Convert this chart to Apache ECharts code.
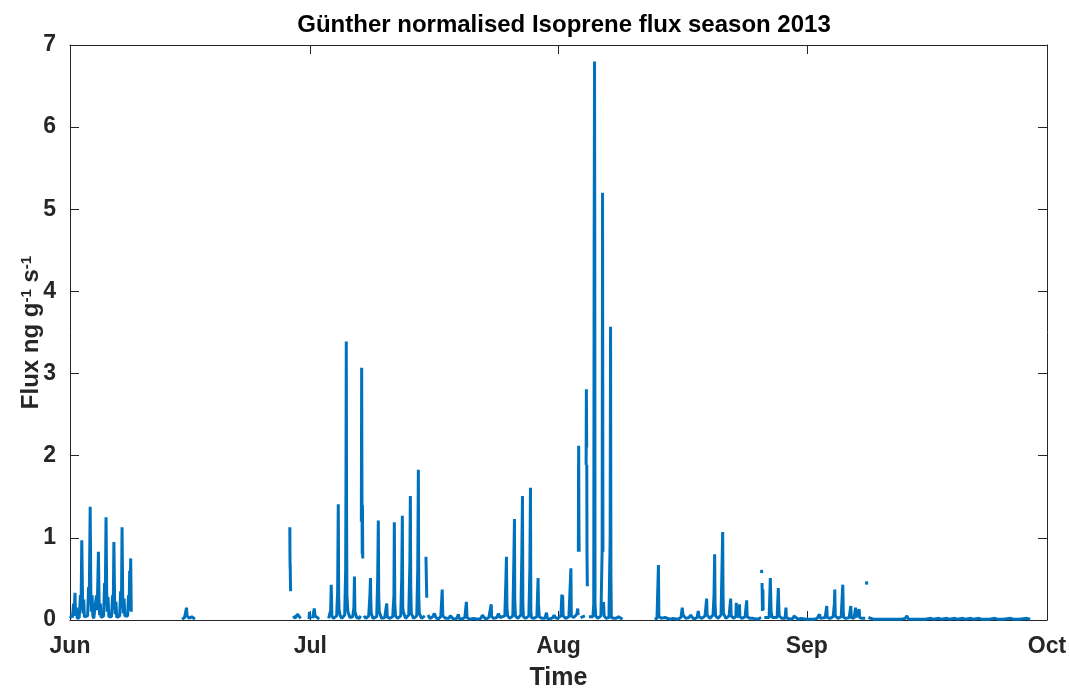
<!DOCTYPE html>
<html>
<head>
<meta charset="utf-8">
<script src="https://cdn.jsdelivr.net/npm/echarts@6/dist/echarts.min.js"></script>
<style>
  html, body { margin: 0; padding: 0; background: #fff; }
  #chart { width: 1070px; height: 696px; }
</style>
</head>
<body>
<div id="chart"></div>
<script>
// x values are days since 1 June 2013 00:00
const monthTicks = [0, 30, 61, 92, 122];
const monthLabels = ['Jun', 'Jul', 'Aug', 'Sep', 'Oct'];
const fluxTicks = [0, 1, 2, 3, 4, 5, 6, 7];

// null marks a gap in the record
const juneFlux = [
  [0.05,0.02],[0.2,0.06],[0.3,0.03],[0.45,0.2],[0.55,0.12],[0.62,0.33],[0.7,0.05],[0.8,0.15],[0.9,0.02],
  [1.15,0.03],[1.3,0.3],[1.38,0.12],[1.47,0.97],[1.56,0.3],[1.62,0.08],[1.72,0.25],[1.8,0.04],[1.95,0.02],
  [2.2,0.05],[2.32,0.4],[2.4,0.2],[2.52,1.38],[2.6,0.35],[2.67,0.1],[2.76,0.3],[2.85,0.05],[2.97,0.02],
  [3.15,0.04],[3.3,0.3],[3.4,0.12],[3.55,0.83],[3.63,0.25],[3.7,0.06],[3.8,0.2],[3.88,0.03],[3.97,0.02],
  [4.2,0.05],[4.32,0.45],[4.4,0.2],[4.5,1.25],[4.58,0.35],[4.65,0.1],[4.75,0.28],[4.85,0.04],[4.97,0.02],
  [5.18,0.04],[5.32,0.3],[5.4,0.14],[5.48,0.95],[5.57,0.25],[5.64,0.07],[5.74,0.22],[5.84,0.03],[5.95,0.02],
  [6.2,0.05],[6.32,0.35],[6.42,0.15],[6.5,1.13],[6.58,0.3],[6.65,0.08],[6.75,0.26],[6.85,0.05],[6.95,0.03],
  [7.2,0.05],[7.3,0.3],[7.38,0.12],[7.45,0.6],[7.52,0.35],[7.58,0.75],[7.65,0.1]
];

const midJuneFlux = [
  [14.0,0.01],[14.3,0.03],[14.55,0.15],[14.62,0.05],[14.9,0.02],
  [15.2,0.04],[15.4,0.02],[15.6,0.01]
];

const lateJuneFlux = [
  [27.45,1.13],[27.47,0.75],[27.49,0.62],[27.5,0.68],[27.52,0.5],[27.55,0.35],
  null,
  [27.9,0.05],[28.1,0.02],[28.4,0.07],[28.6,0.08],[28.8,0.02],
  null,
  [29.85,0.01],[29.9,0.1],[29.95,0.01],
  null,
  [30.3,0.02],[30.5,0.14],[30.6,0.05],[30.9,0.03],[31.1,0.01]
];

const julyAugFlux = [
  [32.3,0.02],[32.55,0.12],[32.62,0.43],[32.7,0.05],[32.9,0.02],
  [33.3,0.05],[33.42,0.35],[33.5,1.41],[33.55,0.3],[33.6,0.12],[33.75,0.05],[33.95,0.02],
  [34.3,0.06],[34.42,0.6],[34.46,1.65],[34.5,3.39],[34.54,1.2],[34.58,0.3],[34.7,0.1],[34.95,0.03],
  [35.3,0.04],[35.45,0.15],[35.52,0.53],[35.58,0.1],[35.8,0.03],
  [36.1,0.02],[36.3,0.05],
  null,
  [36.38,1.2],[36.42,3.07],[36.46,1.5],[36.49,0.8],[36.52,1.4],[36.56,0.75],
  null,
  [36.7,0.05],[36.95,0.02],
  [37.3,0.05],[37.45,0.3],[37.52,0.51],[37.56,0.25],[37.62,0.08],[37.85,0.02],
  [38.3,0.04],[38.42,0.5],[38.5,1.21],[38.55,0.3],[38.62,0.1],[38.9,0.02],
  [39.3,0.03],[39.55,0.2],[39.62,0.04],[39.9,0.02],
  [40.3,0.04],[40.45,0.3],[40.5,1.19],[40.56,0.2],[40.65,0.05],[40.9,0.02],
  [41.3,0.05],[41.42,0.5],[41.5,1.27],[41.55,0.15],[41.62,0.1],[41.9,0.02],
  [42.3,0.06],[42.44,0.7],[42.5,1.51],[42.55,0.4],[42.62,0.08],[42.9,0.02],
  [43.3,0.05],[43.42,0.6],[43.5,1.83],[43.55,0.3],[43.62,0.08],[43.9,0.02],
  [44.3,0.05],
  null,
  [44.45,0.77],[44.5,0.5],[44.55,0.27],
  null,
  [44.7,0.06],[44.95,0.02],
  [45.3,0.04],[45.5,0.08],[45.7,0.03],[45.95,0.01],
  [46.3,0.04],[46.48,0.37],[46.55,0.05],[46.9,0.02],
  [47.3,0.02],[47.5,0.05],[47.9,0.01],
  [48.3,0.02],[48.5,0.07],[48.6,0.02],[48.9,0.01],
  [49.3,0.03],[49.5,0.22],[49.58,0.03],[49.9,0.01],
  [50.4,0.02],[50.5,0.03],[50.9,0.01],
  [51.3,0.02],[51.5,0.06],[51.9,0.01],
  [52.3,0.03],[52.6,0.19],[52.65,0.04],[52.9,0.02],
  [53.3,0.03],[53.5,0.08],[53.7,0.03],[53.9,0.02],
  [54.3,0.05],[54.42,0.45],[54.5,0.77],[54.56,0.15],[54.65,0.05],[54.9,0.02],
  [55.3,0.05],[55.42,0.7],[55.5,1.23],[55.54,0.25],[55.62,0.05],[55.9,0.02],
  [56.3,0.06],[56.42,0.8],[56.5,1.51],[56.55,0.2],[56.62,0.04],[56.9,0.02],
  [57.3,0.05],[57.42,0.6],[57.5,1.61],[57.55,0.1],[57.62,0.03],[57.9,0.02],
  [58.3,0.04],[58.45,0.51],[58.5,0.19],[58.6,0.04],[58.9,0.02],
  [59.3,0.02],[59.5,0.09],[59.6,0.02],[59.9,0.01],
  [60.3,0.03],[60.45,0.06],[60.6,0.03],[60.9,0.02],
  [61.3,0.05],[61.42,0.31],[61.48,0.15],[61.52,0.3],[61.58,0.05],[61.9,0.02],
  [62.3,0.04],[62.55,0.63],[62.6,0.05],[62.9,0.03],
  [63.3,0.07],[63.4,0.14],[63.45,0.06],
  null,
  [63.48,0.83],[63.5,1.8],[63.52,2.12],[63.55,1.2],[63.58,0.83],
  null,
  [63.75,0.03],[63.95,0.02],[64.3,0.05],
  null,
  [64.45,1.89],[64.48,2.81],[64.52,2.1],
  null,
  [64.53,1.89],[64.56,0.8],[64.6,0.41],
  null,
  [64.8,0.04],[64.95,0.02],
  [65.3,0.04],[65.4,0.19],[65.45,4.5],[65.47,5.42],[65.5,6.8],[65.53,4.7],[65.56,0.19],[65.65,0.05],[65.9,0.02],
  [66.3,0.05],[66.45,0.85],[66.5,5.2],[66.55,0.83],
  null,
  [66.62,0.22],[66.7,0.05],[66.95,0.02],
  [67.3,0.03],[67.45,1.0],[67.5,3.57],[67.55,0.5],[67.6,0.03],[67.9,0.02],
  [68.2,0.02],[68.5,0.04],[68.8,0.02],[69.0,0.01]
];

const augSepFlux = [
  [73.0,0.01],[73.3,0.02],[73.48,0.67],[73.53,0.05],[73.8,0.02],
  [74.3,0.03],[74.5,0.05],[74.9,0.01],
  [75.3,0.02],[75.5,0.04],[75.9,0.01],
  [76.3,0.03],[76.45,0.15],[76.55,0.06],[76.9,0.02],
  [77.3,0.03],[77.5,0.06],[77.9,0.01],
  [78.3,0.03],[78.45,0.11],[78.55,0.04],[78.9,0.02],
  [79.3,0.05],[79.5,0.26],[79.56,0.06],[79.9,0.02],
  [80.3,0.06],[80.42,0.3],[80.5,0.8],[80.55,0.2],[80.62,0.05],[80.9,0.02],
  [81.3,0.06],[81.5,1.07],[81.55,0.3],[81.6,0.08],[81.9,0.02],
  [82.3,0.05],[82.5,0.26],[82.56,0.05],[82.9,0.02],
  [83.15,0.05],[83.2,0.21],[83.25,0.04],[83.55,0.05],[83.6,0.19],[83.65,0.04],[83.9,0.02],
  [84.3,0.04],[84.5,0.24],[84.56,0.04],[84.9,0.02],
  [85.3,0.02],[85.5,0.04],[85.9,0.01],
  [86.3,0.03],
  null,
  [86.35,0.61],[86.38,0.57],
  null,
  [86.42,0.45],[86.47,0.11],[86.52,0.37],[86.56,0.12],
  null,
  [86.7,0.03],[86.9,0.02],
  [87.3,0.03],[87.45,0.51],[87.5,0.3],[87.55,0.1],[87.7,0.03],[87.9,0.02],
  [88.3,0.03],[88.45,0.39],[88.5,0.2],[88.56,0.05],[88.9,0.02],
  [89.3,0.02],[89.4,0.15],[89.45,0.03],[89.9,0.01],
  [90.3,0.02],[90.4,0.05],[90.9,0.01],
  [91.3,0.02],[91.5,0.03],[91.9,0.01],
  [92.3,0.01],[92.5,0.03],[92.9,0.01],
  [93.3,0.02],[93.6,0.07],[93.7,0.02],[93.9,0.01],
  [94.3,0.03],[94.5,0.17],[94.56,0.03],[94.9,0.02],
  [95.3,0.04],[95.45,0.2],[95.5,0.37],[95.56,0.05],[95.9,0.02],
  [96.3,0.04],[96.5,0.43],[96.56,0.1],[96.62,0.03],[96.9,0.02],
  [97.3,0.03],[97.5,0.17],[97.56,0.03],[97.9,0.02],
  [98.1,0.15],[98.15,0.03],[98.55,0.13],[98.6,0.03],[98.9,0.02],
  [99.3,0.02],
  null,
  [99.45,0.47],[99.5,0.43],
  null
];

const septFlux = [
  [99.7,0.03],[99.9,0.02],[100.3,0.01],[100.5,0.03],[100.8,0.01],
  [101.3,0.01],[101.5,0.02],[101.8,0.01],[102.3,0.01],[102.5,0.02],[102.8,0.01],
  [103.3,0.01],[103.5,0.03],[103.8,0.01],[104.3,0.02],[104.5,0.05],[104.7,0.01],
  [105.3,0.01],[105.5,0.03],[105.8,0.01],[106.3,0.01],[106.5,0.02],[106.8,0.01],
  [107.5,0.02],[107.8,0.01],[108.5,0.02],[108.8,0.01],[109.5,0.02],[109.8,0.01],
  [110.5,0.02],[110.8,0.01],[111.5,0.02],[111.8,0.01],[112.5,0.02],[112.8,0.01],
  [113.5,0.02],[113.8,0.01],[114.5,0.01],[114.8,0.01],[115.5,0.02],[115.8,0.01],
  [116.5,0.01],[117.5,0.02],[117.8,0.01],[118.5,0.01],[119.5,0.02],[119.9,0.01]
];

const segments = [juneFlux, midJuneFlux, lateJuneFlux, julyAugFlux, augSepFlux, septFlux];

// join the pieces, with '-' entries breaking the line across gaps
const lineData = [];
segments.forEach(seg => {
  seg.forEach(p => lineData.push(p === null ? ['-', '-'] : p));
  lineData.push(['-', '-']);
});

const axisColor = '#262626';
const font = 'Liberation Sans, Arial, Helvetica, sans-serif';

const chart = echarts.init(document.getElementById('chart'), null, { renderer: 'canvas' });

const xCommon = {
  type: 'value', min: 0, max: 122,
  axisLine: { show: true, onZero: false, lineStyle: { color: axisColor, width: 1 } },
  axisTick: { show: true, inside: true, length: 9, customValues: monthTicks, lineStyle: { color: axisColor } },
  splitLine: { show: false }
};
const yCommon = {
  type: 'value', min: 0, max: 7, interval: 1,
  axisLine: { show: true, onZero: false, lineStyle: { color: axisColor, width: 1 } },
  axisTick: { show: true, inside: true, length: 9, lineStyle: { color: axisColor } },
  splitLine: { show: false }
};

chart.setOption({
  animation: false,
  backgroundColor: '#fff',
  title: {
    text: 'Günther normalised Isoprene flux season 2013',
    left: 559, top: 8, textAlign: 'center',
    textStyle: { fontFamily: font, fontSize: 24, fontWeight: 'bold', color: '#000' }
  },
  grid: { left: 70, right: 23, top: 45, bottom: 66, containLabel: false },
  xAxis: [
    Object.assign({}, xCommon, {
      position: 'bottom',
      axisLabel: {
        show: true, margin: 15, customValues: monthTicks,
        formatter: v => monthLabels[monthTicks.indexOf(v)],
        fontFamily: font, fontSize: 23, fontWeight: 'bold', color: axisColor
      },
      name: 'Time', nameLocation: 'middle', nameGap: 46, nameMoveOverlap: false,
      nameTextStyle: { fontFamily: font, fontSize: 25, fontWeight: 'bold', color: axisColor }
    }),
    Object.assign({}, xCommon, { position: 'top', axisLabel: { show: false } })
  ],
  yAxis: [
    Object.assign({}, yCommon, {
      position: 'left',
      axisLabel: {
        show: true, margin: 14,
        customValues: fluxTicks,
        fontFamily: font, fontSize: 23, fontWeight: 'bold', color: axisColor
      },
      name: 'Flux ng g{sup|-1} s{sup|-1}',
      nameLocation: 'middle', nameGap: 27, nameRotate: 90, nameMoveOverlap: false,
      nameTextStyle: {
        fontFamily: font, fontSize: 24, fontWeight: 'bold', color: axisColor,
        rich: { sup: { fontFamily: font, fontSize: 15, fontWeight: 'bold', color: axisColor, verticalAlign: 'top', lineHeight: 13 } }
      }
    }),
    Object.assign({}, yCommon, { position: 'right', axisLabel: { show: false } })
  ],
  series: [{
    type: 'line',
    xAxisIndex: 0, yAxisIndex: 0,
    data: lineData,
    showSymbol: false,
    connectNulls: false,
    lineStyle: { color: '#0072BD', width: 3 },
    emphasis: { disabled: true }
  }]
});
</script>
</body>
</html>
